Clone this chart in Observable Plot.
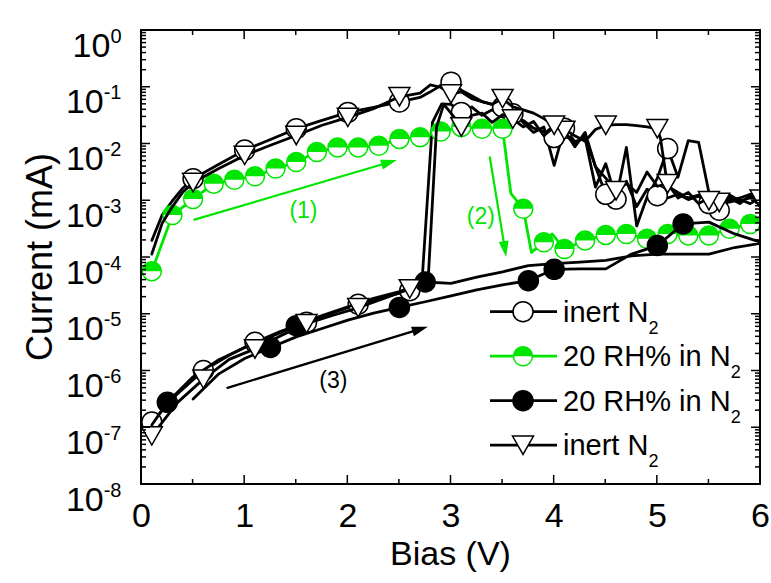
<!DOCTYPE html>
<html><head><meta charset="utf-8">
<script src="https://cdn.jsdelivr.net/npm/d3@7"></script>
<script src="https://cdn.jsdelivr.net/npm/@observablehq/plot@0.6"></script>
<style>
html,body{margin:0;padding:0;background:#fff;}
#chart{width:771px;height:583px;}
</style></head><body><div id="chart"></div>
<script>
// ---------- data ----------
const decadeTicks = [1e-8,1e-7,1e-6,1e-5,1e-4,1e-3,1e-2,1e-1,1];
const biasTicks = [0,1,2,3,4,5,6];
const biasMinorTicks = [0.5,1.5,2.5,3.5,4.5,5.5];

// Series A: inert N2 (open circles) — forward then reverse sweep
const biasA = [0.1,0.35,0.6,0.85,1.1,1.35,1.6,1.85,2.1,2.35,2.6,2.72,2.82,2.91,3.0,3.1,3.2,3.3,3.4,3.5,3.6,3.7,3.8,3.9,4.0,4.1,4.2,4.3,4.4,4.5,4.6,4.7,4.8,4.9,5.0,5.1,5.2,5.3,5.4,5.5,5.6,5.7,5.8,5.9,6.0,
  5.9,5.8,5.7,5.6,5.5,5.4,5.3,5.2,5.1,5.0,4.9,4.8,4.7,4.6,4.5,4.4,4.3,4.2,4.1,4.0,3.9,3.8,3.7,3.6,3.5,3.4,3.3,3.2,3.1,3.0,2.9,2.8,2.7,2.5,2.25,2.0,1.75,1.5,1.25,1.0,0.75,0.5,0.4,0.3,0.2,0.1];
const currentA = [1.26e-7,4.0e-7,1.02e-6,1.9e-6,3.2e-6,5.0e-6,7.2e-6,1.05e-5,1.5e-5,2.0e-5,2.6e-5,4.0e-5,2.4e-2,5.1e-2,5.0e-2,3.6e-2,4.5e-2,3.2e-2,4.0e-2,3.0e-2,3.4e-2,2.4e-2,1.6e-2,2.0e-2,4.2e-3,1.9e-2,1.1e-2,1.26e-2,1.74e-3,4.5e-3,1.07e-3,8.7e-3,3.6e-4,1.15e-3,2.5e-3,8.3e-3,2.6e-3,1.15e-2,1.07e-2,1.4e-3,6.8e-4,1.0e-3,1.12e-3,1.3e-3,1.12e-3,
  8.9e-4,1.05e-3,9.5e-4,1.2e-3,8.9e-4,1.2e-3,1.05e-3,1.3e-3,1.12e-3,1.23e-3,1.6e-3,7.9e-4,2.2e-3,1.4e-3,1.3e-3,4.0e-3,1.4e-2,1.0e-2,1.5e-2,1.3e-2,1.66e-2,1.9e-2,2.6e-2,3.0e-2,4.5e-2,5.0e-2,5.6e-2,7.1e-2,8.9e-2,1.23e-1,1.07e-1,8.3e-2,6.6e-2,5.5e-2,4.4e-2,3.6e-2,2.6e-2,1.86e-2,1.2e-2,7.8e-3,4.4e-3,2.45e-3,1.66e-3,1.0e-3,5.6e-4,2.0e-4];
const markBiasA = [0.1,0.6,1.1,1.6,2.1,2.6,3.1,3.6,4.1,4.6,5.1,5.6,5.5,5.0,4.5,4.0,3.5,3.0,2.5,2.0,1.5,1.0,0.5];
const markCurrentA = [1.26e-7,1.02e-6,3.2e-6,7.2e-6,1.5e-5,2.6e-5,3.6e-2,3.4e-2,1.9e-2,1.07e-3,8.3e-3,6.8e-4,8.9e-4,1.23e-3,1.3e-3,1.3e-2,4.5e-2,1.23e-1,5.5e-2,3.6e-2,1.86e-2,7.8e-3,2.45e-3];

// Series B: 20 RH% in N2 (green, half-filled circles)
const biasB = [0.1,0.3,0.5,0.7,0.9,1.1,1.3,1.5,1.7,1.9,2.1,2.3,2.5,2.7,2.9,3.1,3.3,3.5,3.58,3.7,3.78,3.9,3.98,4.1,4.3,4.5,4.7,4.9,5.1,5.3,5.5,5.7,5.9,6.0];
const currentB = [5.75e-5,5.6e-4,1.07e-3,2.0e-3,2.35e-3,2.7e-3,3.7e-3,4.8e-3,7.2e-3,8.7e-3,8.7e-3,9.3e-3,1.23e-2,1.32e-2,1.66e-2,2.0e-2,1.86e-2,1.86e-2,1.35e-3,7.2e-4,1.23e-4,1.86e-4,2.6e-4,1.41e-4,2.0e-4,2.5e-4,2.6e-4,2.14e-4,2.6e-4,2.45e-4,2.45e-4,3.2e-4,3.9e-4,4.2e-4];
const markBiasB = [0.1,0.3,0.5,0.7,0.9,1.1,1.3,1.5,1.7,1.9,2.1,2.3,2.5,2.7,2.9,3.1,3.3,3.5,3.7,3.9,4.1,4.3,4.5,4.7,4.9,5.1,5.3,5.5,5.7,5.9];
const markCurrentB = [5.75e-5,5.6e-4,1.07e-3,2.0e-3,2.35e-3,2.7e-3,3.7e-3,4.8e-3,7.2e-3,8.7e-3,8.7e-3,9.3e-3,1.23e-2,1.32e-2,1.66e-2,2.0e-2,1.86e-2,1.86e-2,7.2e-4,1.86e-4,1.41e-4,2.0e-4,2.5e-4,2.6e-4,2.14e-4,2.6e-4,2.45e-4,2.45e-4,3.2e-4,3.9e-4];

// Series C: 20 RH% in N2 (filled black circles)
const biasC = [0.1,0.25,0.5,0.75,1.0,1.25,1.5,1.75,2.0,2.25,2.5,2.75,3.0,3.25,3.5,3.75,4.0,4.25,4.5,4.75,5.0,5.25,5.5,5.75,6.0,
  6.0,5.75,5.5,5.25,5.0,4.75,4.5,4.25,4.0,3.75,3.5,3.25,3.0,2.75,2.5,2.25,2.0,1.75,1.5,1.25,1.0,0.75,0.5];
const currentC = [1.12e-7,2.8e-7,7.9e-7,1.58e-6,2.6e-6,4.0e-6,6.3e-6,9.5e-6,1.35e-5,1.9e-5,2.5e-5,3.7e-5,3.5e-5,4.5e-5,5.6e-5,7.2e-5,7.8e-5,8.3e-5,8.9e-5,1.07e-4,1.15e-4,1.15e-4,1.15e-4,1.5e-4,1.78e-4,
  1.86e-4,2.6e-4,4.2e-4,3.9e-4,1.62e-4,1.15e-4,6.3e-5,6.3e-5,6.2e-5,3.9e-5,3.3e-5,2.7e-5,2.1e-5,1.66e-5,1.32e-5,1.05e-5,7.9e-6,5.6e-6,4.0e-6,2.6e-6,1.66e-6,8.9e-7,3.2e-7];
const markBiasC = [0.25,1.5,2.75,5.25,5.0,4.0,3.75,2.5,1.25];
const markCurrentC = [2.8e-7,6.3e-6,3.7e-5,3.9e-4,1.62e-4,6.2e-5,3.9e-5,1.32e-5,2.6e-6];

// Series D: inert N2 (open down-triangles)
const biasD = [0.1,0.35,0.6,0.85,1.1,1.35,1.6,1.85,2.1,2.35,2.6,2.78,2.86,2.93,3.0,3.1,3.2,3.3,3.4,3.5,3.6,3.7,3.8,3.9,4.0,4.1,4.2,4.3,4.4,4.5,4.6,4.7,4.8,4.9,5.0,5.1,5.2,5.3,5.4,5.5,5.6,5.7,5.8,5.9,6.0,
  6.0,5.9,5.8,5.7,5.6,5.5,5.4,5.3,5.2,5.1,5.03,5.0,4.9,4.8,4.7,4.6,4.5,4.4,4.3,4.2,4.1,4.0,3.9,3.8,3.7,3.6,3.5,3.4,3.3,3.2,3.1,3.0,2.9,2.8,2.7,2.5,2.25,2.0,1.75,1.5,1.25,1.0,0.75,0.5,0.4,0.3,0.2,0.1];
const currentD = [7.2e-8,2.8e-7,7.2e-7,1.6e-6,2.45e-6,4.2e-6,6.8e-6,9.5e-6,1.3e-5,1.9e-5,2.8e-5,4.5e-5,2.0e-2,5.0e-2,3.5e-2,2.0e-2,3.2e-2,3.5e-2,2.4e-2,3.3e-2,2.75e-2,2.0e-2,2.5e-2,1.4e-2,2.0e-2,1.74e-2,8.9e-3,1.6e-2,4.0e-3,2.5e-3,1.5e-3,2.0e-3,1.4e-3,3.2e-3,1.8e-3,2.0e-3,1.12e-3,1.4e-3,8.9e-4,1.12e-3,9.3e-4,1.12e-3,8.9e-4,1.26e-3,7.9e-4,
  1.07e-3,1.12e-3,1.0e-3,1.26e-3,1.0e-3,1.0e-3,1.26e-3,1.12e-3,1.4e-3,1.8e-3,1.26e-2,1.86e-2,2.0e-2,2.1e-2,2.2e-2,2.2e-2,2.14e-2,1.8e-2,1.12e-2,1.4e-2,1.8e-2,2.14e-2,2.8e-2,3.5e-2,4.0e-2,4.5e-2,6.3e-2,5.0e-2,5.6e-2,6.3e-2,8.3e-2,7.6e-2,1.0e-1,1.1e-1,7.9e-2,6.8e-2,4.2e-2,2.95e-2,2.14e-2,1.41e-2,9.5e-3,6.3e-3,3.7e-3,2.1e-3,1.41e-3,7.9e-4,4.0e-4,1.15e-4];
const markBiasD = [0.1,0.6,1.1,1.6,2.1,2.6,3.1,3.6,4.1,4.6,5.1,5.6,6.0,5.5,5.0,4.5,4.0,3.5,3.0,2.5,2.0,1.5,1.0,0.5];
const markCurrentD = [7.2e-8,7.2e-7,2.45e-6,6.8e-6,1.3e-5,2.8e-5,2.0e-2,2.75e-2,1.74e-2,1.5e-3,2.0e-3,9.3e-4,1.07e-3,1.0e-3,1.86e-2,2.14e-2,2.14e-2,6.3e-2,7.6e-2,6.8e-2,2.95e-2,1.41e-2,6.3e-3,2.1e-3];

// Annotations
const noteText = ["(1)","(2)","(3)"];
const noteBias = [1.57,3.29,1.86];
const noteCurrent = [6.8e-4,5.3e-4,6.8e-7];
const arrowBias1 = [0.51,3.38,0.83];
const arrowCurrent1 = [4.5e-4,5.9e-3,4.9e-7];
const arrowBias2 = [2.48,3.54,2.78];
const arrowCurrent2 = [5.1e-3,1.0e-4,5.9e-6];

const legendLabels = ["inert N","20 RH% in N","20 RH% in N","inert N"];
const legendSub = ["2","2","2","2"];

// ---------- styles ----------
const GREEN = "#00e600";
const FONT = "Arial, 'Liberation Sans', Helvetica, sans-serif";
const noteColors = [GREEN, GREEN, "black"];

const halfTop = { draw(ctx, size) { const r = Math.sqrt(size / Math.PI); ctx.moveTo(r, 0); ctx.arc(0, 0, r, 0, Math.PI, true); ctx.closePath(); } };
const triDown = { draw(ctx, size) { const r = Math.sqrt(size / Math.PI); const w = r * 1.05, h = r * 0.92; ctx.moveTo(-w, -h); ctx.lineTo(w, -h); ctx.lineTo(0, h); ctx.closePath(); } };

const rows = (xs, ys) => xs.map((b, i) => ({bias: b, current: ys[i]}));
const LW = 2.8;

function decor(index, scales, values, dims) {
  const x = scales.x, y = scales.y;
  const {width, height, marginLeft, marginRight, marginTop, marginBottom} = dims;
  const x0 = marginLeft, x1 = width - marginRight, yb = height - marginBottom, yt = marginTop;
  const g = d3.create("svg:g").attr("text-anchor", "start");
  g.append("rect").attr("x", x0).attr("y", yt).attr("width", x1 - x0).attr("height", yb - yt)
    .attr("fill", "none").attr("stroke", "black").attr("stroke-width", 2);
  const tk = g.append("g").attr("stroke", "black").attr("stroke-width", 1.5);
  const MAJ = 9, MIN = 5;
  for (const v of biasTicks) {
    tk.append("line").attr("x1", x(v)).attr("x2", x(v)).attr("y1", yb).attr("y2", yb - MAJ);
    tk.append("line").attr("x1", x(v)).attr("x2", x(v)).attr("y1", yt).attr("y2", yt + MAJ);
  }
  for (const v of biasMinorTicks) {
    tk.append("line").attr("x1", x(v)).attr("x2", x(v)).attr("y1", yb).attr("y2", yb - MIN);
    tk.append("line").attr("x1", x(v)).attr("x2", x(v)).attr("y1", yt).attr("y2", yt + MIN);
  }
  for (let i = 0; i < decadeTicks.length; i++) {
    const d = decadeTicks[i];
    tk.append("line").attr("x1", x0).attr("x2", x0 + MAJ).attr("y1", y(d)).attr("y2", y(d));
    tk.append("line").attr("x1", x1).attr("x2", x1 - MAJ).attr("y1", y(d)).attr("y2", y(d));
    if (i < decadeTicks.length - 1) {
      for (let k = 2; k <= 9; k++) {
        const v = d * k;
        tk.append("line").attr("x1", x0).attr("x2", x0 + MIN).attr("y1", y(v)).attr("y2", y(v));
        tk.append("line").attr("x1", x1).attr("x2", x1 - MIN).attr("y1", y(v)).attr("y2", y(v));
      }
    }
  }
  for (let i = 0; i < arrowBias1.length; i++) {
    const ax = x(arrowBias1[i]), ay = y(arrowCurrent1[i]), bx = x(arrowBias2[i]), by = y(arrowCurrent2[i]);
    const ang = Math.atan2(by - ay, bx - ax), L = 16, Hw = 5;
    const cx = bx - L * Math.cos(ang), cy = by - L * Math.sin(ang);
    const c = noteColors[i];
    g.append("line").attr("x1", ax).attr("y1", ay).attr("x2", cx + 2 * Math.cos(ang)).attr("y2", cy + 2 * Math.sin(ang))
      .attr("stroke", c).attr("stroke-width", 2.2);
    const px = -Math.sin(ang), py = Math.cos(ang);
    g.append("path").attr("d", `M${bx},${by}L${cx + Hw * px},${cy + Hw * py}L${cx - Hw * px},${cy - Hw * py}Z`).attr("fill", c);
  }
  g.append("text").attr("x", (x0 + x1) / 2).attr("y", 565).attr("text-anchor", "middle")
    .attr("font-size", 34).text("Bias (V)");
  g.append("text").attr("transform", `translate(52,${(yt + yb) / 2}) rotate(-90)`).attr("text-anchor", "middle")
    .attr("font-size", 36).text("Current (mA)");
  const lx0 = 490, lx1 = 557, lmx = 523, ltx = 563, ly0 = 311.7, ldy = 44.5;
  const syms = [
    {type: d3.symbolCircle, fill: "white", stroke: "black", line: "black"},
    {type: "half", fill: "white", stroke: GREEN, line: GREEN},
    {type: d3.symbolCircle, fill: "black", stroke: "black", line: "black"},
    {type: triDown, fill: "white", stroke: "black", line: "black"}
  ];
  const size = Math.PI * 100;
  legendLabels.forEach((lab, i) => {
    const ly = ly0 + i * ldy, s = syms[i];
    g.append("line").attr("x1", lx0).attr("x2", lx1).attr("y1", ly).attr("y2", ly).attr("stroke", s.line).attr("stroke-width", LW);
    if (s.type === "half") {
      g.append("path").attr("transform", `translate(${lmx},${ly})`).attr("d", d3.symbol(d3.symbolCircle, Math.PI * 90)())
        .attr("fill", "white").attr("stroke", GREEN).attr("stroke-width", 1.5);
      g.append("path").attr("transform", `translate(${lmx},${ly})`).attr("d", d3.symbol(halfTop, Math.PI * 90)()).attr("fill", GREEN);
    } else {
      g.append("path").attr("transform", `translate(${lmx},${ly})`).attr("d", d3.symbol(s.type, size)())
        .attr("fill", s.fill).attr("stroke", s.stroke).attr("stroke-width", 1.5);
    }
    const t = g.append("text").attr("x", ltx).attr("y", ly + 10).attr("font-size", 29).attr("text-anchor", "start");
    t.append("tspan").text(lab);
    t.append("tspan").attr("font-size", 18).attr("dy", 12).text(legendSub[i]);
  });
  return g.node();
}

const svg = Plot.plot({
  width: 771, height: 583,
  marginLeft: 141, marginRight: 11, marginTop: 30, marginBottom: 99,
  style: {fontFamily: FONT, fontSize: "33px", color: "black", background: "white", overflow: "visible"},
  x: {domain: [0, 6], ticks: biasTicks, tickSize: 0, tickPadding: 18, label: null, tickFormat: d => String(d)},
  y: {type: "log", domain: [1e-8, 1], ticks: decadeTicks, tickSize: 0, tickPadding: 20, label: null,
      tickFormat: d => "10^" + Math.round(Math.log10(d))},
  marks: [
    Plot.line(rows(biasA, currentA), {x: "bias", y: "current", stroke: "black", strokeWidth: LW, clip: true}),
    Plot.dot(rows(markBiasA, markCurrentA), {x: "bias", y: "current", r: 10, fill: "white", stroke: "black", strokeWidth: 1.5, clip: true}),
    Plot.line(rows(biasB, currentB), {x: "bias", y: "current", stroke: GREEN, strokeWidth: LW, clip: true}),
    Plot.dot(rows(markBiasB, markCurrentB), {x: "bias", y: "current", r: 9.5, fill: "white", stroke: GREEN, strokeWidth: 1.5, clip: true}),
    Plot.dot(rows(markBiasB, markCurrentB), {x: "bias", y: "current", r: 9.5, symbol: halfTop, fill: GREEN, clip: true}),
    Plot.line(rows(biasC, currentC), {x: "bias", y: "current", stroke: "black", strokeWidth: LW, clip: true}),
    Plot.dot(rows(markBiasC, markCurrentC), {x: "bias", y: "current", r: 10, fill: "black", stroke: "black", clip: true}),
    Plot.line(rows(biasD, currentD), {x: "bias", y: "current", stroke: "black", strokeWidth: LW, clip: true}),
    Plot.dot(rows(markBiasD, markCurrentD), {x: "bias", y: "current", r: 10, symbol: triDown, fill: "white", stroke: "black", strokeWidth: 1.5, clip: true}),
    Plot.text(noteText.map((t, i) => ({t, bias: noteBias[i], current: noteCurrent[i], c: noteColors[i]})),
      {x: "bias", y: "current", text: "t", fill: d => d.c, fontSize: 23}),
    decor
  ]
});

// axis tick labels: larger font, superscript exponents on y
d3.select(svg).selectAll("text").each(function () {
  const txt = this.textContent.replace("\u2212", "-");
  const s = d3.select(this);
  if (/^\d$/.test(txt)) { s.style("font-size", "34px"); return; }
  const m = /^10\^(-?\d+)$/.exec(txt);
  if (!m) return;
  s.text(null).attr("dy", "0.45em").style("font-size", "34px");
  s.append("tspan").text("10");
  s.append("tspan").attr("dy", -14).style("font-size", "20px").text(m[1]);
});

document.getElementById("chart").appendChild(svg);
</script></body></html>
